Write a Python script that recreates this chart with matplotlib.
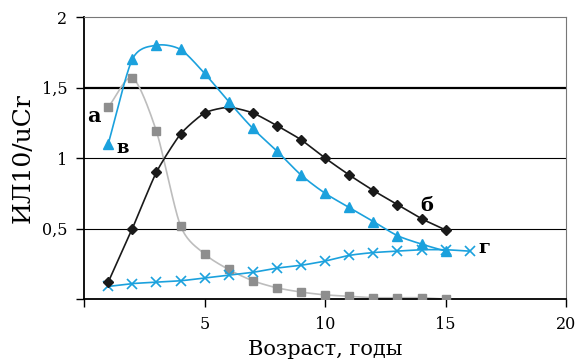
import numpy as np
import matplotlib
matplotlib.use("Agg")
import matplotlib.pyplot as plt
from matplotlib.ticker import FixedLocator

plt.rcParams['font.family'] = ['DejaVu Serif']

ages = [1, 2, 3, 4, 5, 6, 7, 8, 9, 10, 11, 12, 13, 14, 15]
ages_g = [1, 2, 3, 4, 5, 6, 7, 8, 9, 10, 11, 12, 13, 14, 15, 16]
series_a = [1.36, 1.57, 1.19, 0.52, 0.32, 0.21, 0.13, 0.08, 0.05, 0.03, 0.02, 0.01, 0.01, 0.01, 0.0]
series_v = [1.10, 1.70, 1.80, 1.77, 1.60, 1.40, 1.21, 1.05, 0.88, 0.75, 0.65, 0.55, 0.45, 0.39, 0.34]
series_b = [0.12, 0.50, 0.90, 1.17, 1.32, 1.36, 1.32, 1.23, 1.13, 1.00, 0.88, 0.77, 0.67, 0.57, 0.49]
series_g = [0.09, 0.11, 0.12, 0.13, 0.15, 0.17, 0.19, 0.22, 0.24, 0.27, 0.31, 0.33, 0.34, 0.35, 0.35, 0.34]
y_ticks = [0, 0.5, 1, 1.5, 2]
y_tick_labels = ["", "0,5", "1", "1,5", "2"]
x_ticks = [0, 5, 10, 15, 20]
x_tick_labels = ["", "5", "10", "15", "20"]


def smooth(x, y, n=20, tension=0.5):
    x = np.asarray(x, float)
    y = np.asarray(y, float)
    px = np.concatenate([[2 * x[0] - x[1]], x, [2 * x[-1] - x[-2]]])
    py = np.concatenate([[2 * y[0] - y[1]], y, [2 * y[-1] - y[-2]]])
    xs, ys = [], []
    for i in range(1, len(px) - 2):
        p0x, p1x, p2x, p3x = px[i - 1:i + 3]
        p0y, p1y, p2y, p3y = py[i - 1:i + 3]
        m1x = tension * (p2x - p0x); m2x = tension * (p3x - p1x)
        m1y = tension * (p2y - p0y); m2y = tension * (p3y - p1y)
        t = np.linspace(0, 1, n, endpoint=False)
        h00 = 2 * t**3 - 3 * t**2 + 1
        h10 = t**3 - 2 * t**2 + t
        h01 = -2 * t**3 + 3 * t**2
        h11 = t**3 - t**2
        xs.append(h00 * p1x + h10 * m1x + h01 * p2x + h11 * m2x)
        ys.append(h00 * p1y + h10 * m1y + h01 * p2y + h11 * m2y)
    xs.append([x[-1]]); ys.append([y[-1]])
    return np.concatenate(xs), np.concatenate(ys)


fig = plt.figure(figsize=(5.76, 3.63), dpi=100)
ax = fig.add_axes([0.146, 0.176, 0.837, 0.777])

blue = "#1ba1dd"
grey_m = "#8e8e8e"
grey_l = "#bdbdbd"

for yv, lw in [(0.5, 0.8), (1.0, 0.8), (1.5, 1.6)]:
    ax.axhline(yv, color="black", lw=lw, zorder=1)

sx, sy = smooth(ages, series_a, tension=0.4)
ax.plot(sx, sy, color=grey_l, lw=1.2, zorder=2)
ax.plot(ages, series_a, ls="none", marker="s", ms=6, color=grey_m, zorder=3)

sx, sy = smooth(ages_g, series_g, tension=0.4)
ax.plot(sx, sy, color=blue, lw=1.2, zorder=2)
ax.plot(ages_g, series_g, ls="none", marker="x", ms=7, mew=1.2, color=blue, zorder=3)

sx, sy = smooth(ages, series_b, tension=0.3)
ax.plot(sx, sy, color="#1a1a1a", lw=1.2, zorder=4)
ax.plot(ages, series_b, ls="none", marker="D", ms=5, color="#1a1a1a", zorder=5)

sx, sy = smooth(ages, series_v, tension=0.4)
ax.plot(sx, sy, color=blue, lw=1.2, zorder=4)
ax.plot(ages, series_v, ls="none", marker="^", ms=7, color=blue, zorder=5)

ax.set_xlim(0, 20)
ax.set_ylim(0, 2)
ax.xaxis.set_major_locator(FixedLocator(x_ticks))
ax.yaxis.set_major_locator(FixedLocator(y_ticks))
ax.set_xticklabels(x_tick_labels, fontsize=11.5)
ax.set_yticklabels(y_tick_labels, fontsize=11.5)
ax.tick_params(direction="out", length=6, width=1, pad=6)

ax.spines['left'].set_color("black")
ax.spines['bottom'].set_color("black")
ax.spines['left'].set_linewidth(1.3)
ax.spines['bottom'].set_linewidth(1.3)
ax.spines['top'].set_color("#777777")
ax.spines['right'].set_color("#777777")

ax.set_xlabel("Возраст, годы", fontsize=15, labelpad=5)
ax.set_ylabel("ИЛ10/uCr", fontsize=18, labelpad=5)

ax.text(0.4, 1.30, "а", fontsize=15, fontweight="bold", ha="center", va="center")
ax.text(1.6, 1.07, "в", fontsize=13, fontweight="bold", ha="center", va="center")
ax.text(14.2, 0.66, "б", fontsize=14, fontweight="bold", ha="center", va="center")
ax.text(16.6, 0.36, "г", fontsize=14, fontweight="bold", ha="center", va="center")

fig.savefig("out.png", dpi=100)
